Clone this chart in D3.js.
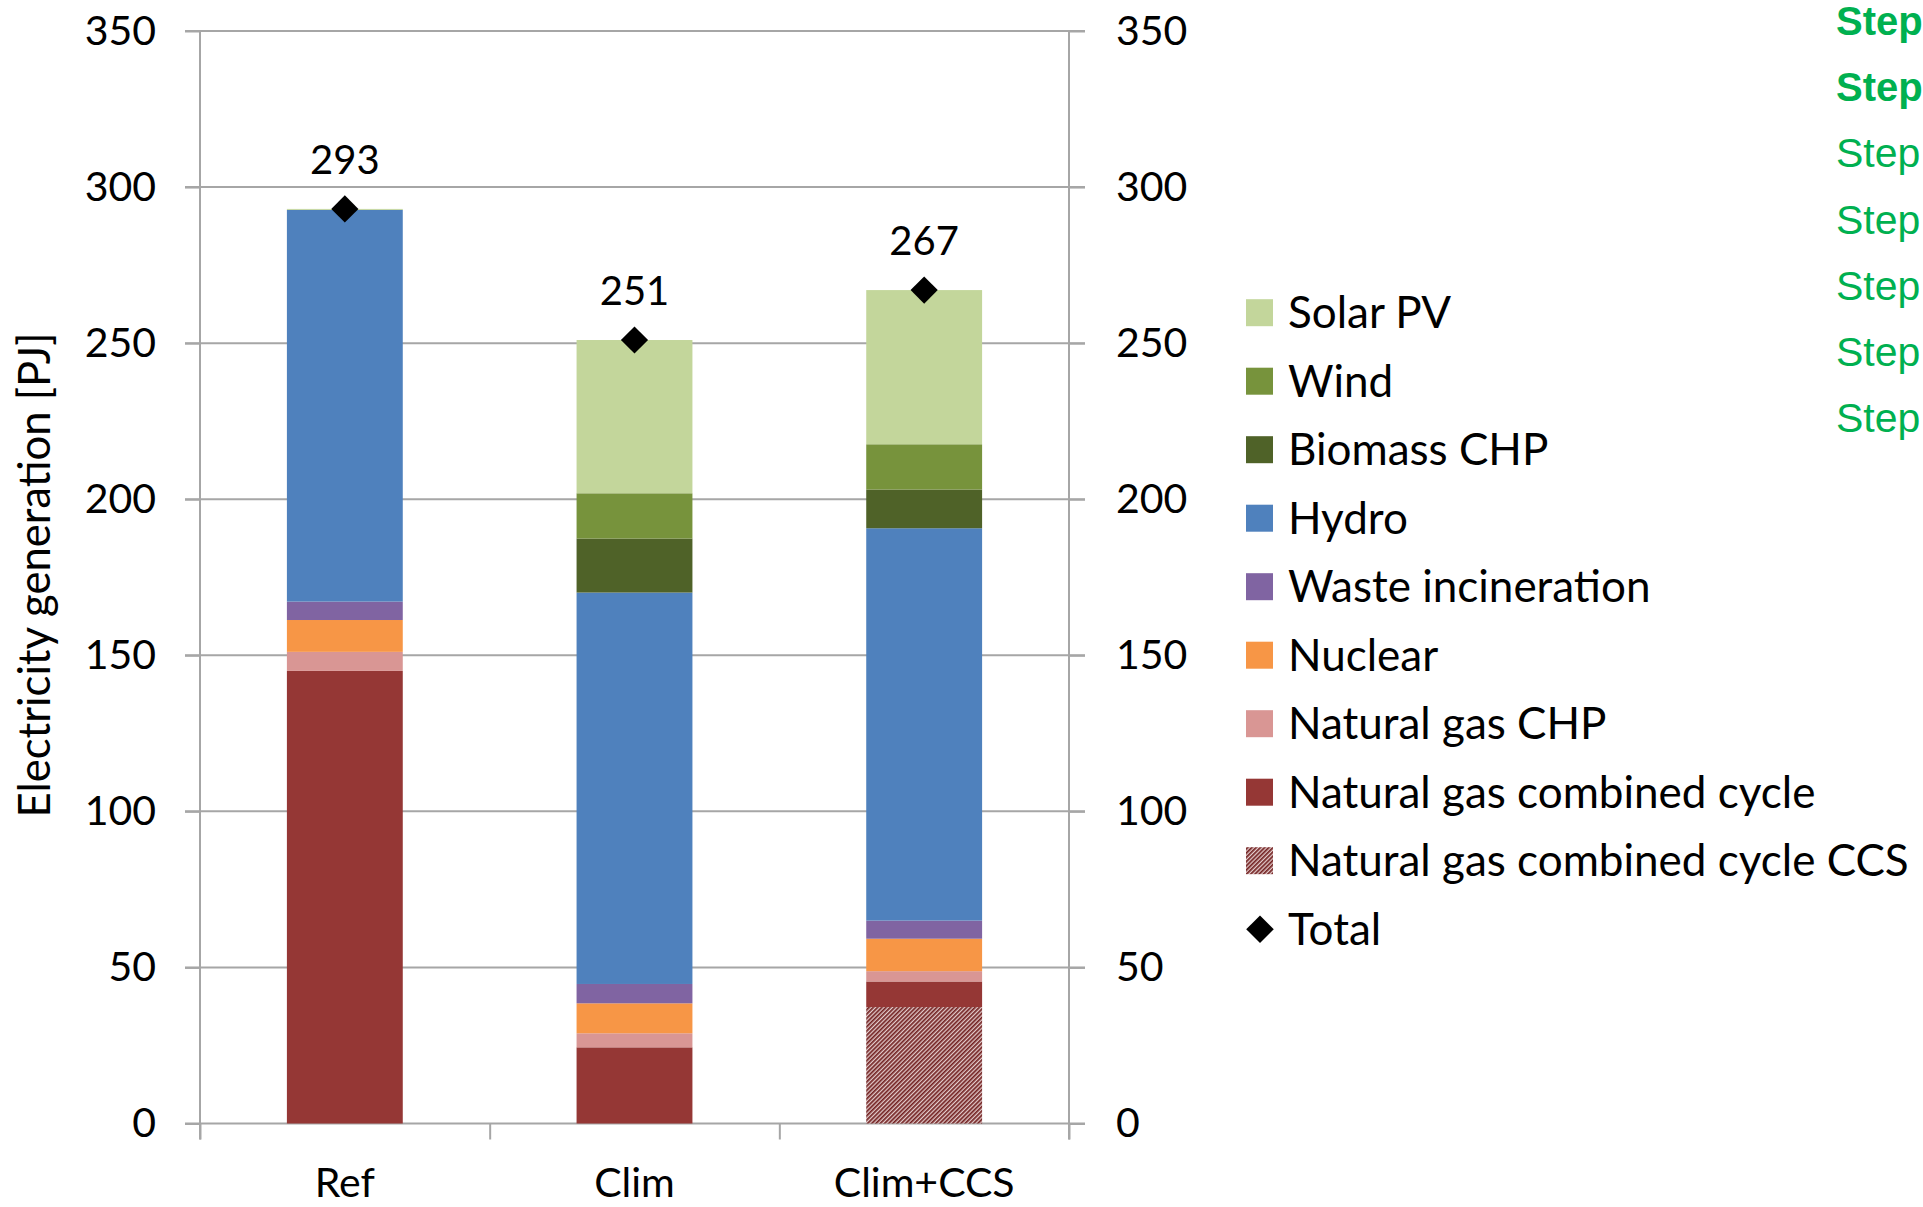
<!DOCTYPE html>
<html>
<head>
<meta charset="utf-8">
<script src="https://cdn.jsdelivr.net/npm/d3@7"></script>
<style>
  html, body { margin: 0; padding: 0; background: #fff; overflow: hidden; }
  svg { display: block; }
  text { font-family: Lato, "Open Sans", sans-serif; fill: #000; }
  text.step { font-family: "Liberation Sans", Arial, sans-serif; fill: #00b050; }
</style>
</head>
<body>
<svg id="chart" width="1923" height="1207"></svg>
<script>
// Electricity generation by technology per scenario [PJ]
const categories = ["Ref", "Clim", "Clim+CCS"];
const ngccCCS  = [0,     0,     37.3];
const ngcc     = [145.0, 24.4,  8.2];
const ngChp    = [6.1,   4.5,   3.3];
const nuclear  = [10.2,  9.6,   10.4];
const waste    = [5.9,   6.2,   5.8];
const hydro    = [125.5, 125.4, 125.7];
const biomass  = [0,     17.3,  12.4];
const wind     = [0,     14.5,  14.5];
const solar    = [0.3,   49.1,  49.4];
const totals   = [293, 251, 267];
const yTicks   = [0, 50, 100, 150, 200, 250, 300, 350];
const steps    = ["Step", "Step", "Step", "Step", "Step", "Step", "Step"];

const series = [
  { key: "ngccCCS", name: "Natural gas combined cycle CCS", values: ngccCCS, color: "url(#hatch)" },
  { key: "ngcc",    name: "Natural gas combined cycle",     values: ngcc,    color: "#953735" },
  { key: "ngChp",   name: "Natural gas CHP",                values: ngChp,   color: "#d99694" },
  { key: "nuclear", name: "Nuclear",                        values: nuclear, color: "#f79646" },
  { key: "waste",   name: "Waste incineration",             values: waste,   color: "#8064a2" },
  { key: "hydro",   name: "Hydro",                          values: hydro,   color: "#4f81bd" },
  { key: "biomass", name: "Biomass CHP",                    values: biomass, color: "#4f6228" },
  { key: "wind",    name: "Wind",                           values: wind,    color: "#77933c" },
  { key: "solar",   name: "Solar PV",                       values: solar,   color: "#c3d69b" }
];

const rows = categories.map((c, i) => {
  const r = { category: c, total: totals[i] };
  series.forEach(s => { r[s.key] = s.values[i]; });
  return r;
});

const svg = d3.select("#chart");
const plotLeft = 200, plotRight = 1069, plotTop = 31, plotBottom = 1123.5;
const gridColor = "#a6a6a6";

// hatch for the CCS series
const defs = svg.append("defs");
const pat = defs.append("pattern")
  .attr("id", "hatch")
  .attr("patternUnits", "userSpaceOnUse")
  .attr("width", 3).attr("height", 3)
  .attr("patternTransform", "rotate(45)");
pat.append("rect").attr("width", 3).attr("height", 3).attr("fill", "#e3cccc");
pat.append("rect").attr("width", 1.7).attr("height", 3).attr("fill", "#732222");

const x = d3.scaleBand().domain(categories).range([plotLeft, plotRight])
  .paddingInner(0.6).paddingOuter(0.3);
const xEdge = d3.scaleLinear().domain([0, categories.length]).range([plotLeft, plotRight]);
const y = d3.scaleLinear().domain([0, 350]).range([plotBottom, plotTop]);

// gridlines
svg.append("g").selectAll("line").data(yTicks).join("line")
  .attr("x1", plotLeft - 15).attr("x2", plotRight + 16)
  .attr("y1", d => y(d)).attr("y2", d => y(d))
  .attr("stroke", gridColor).attr("stroke-width", 2);

// vertical axis lines
svg.append("line").attr("x1", plotLeft).attr("x2", plotLeft).attr("y1", plotTop).attr("y2", plotBottom + 16)
  .attr("stroke", gridColor).attr("stroke-width", 2);
svg.append("line").attr("x1", plotRight).attr("x2", plotRight).attr("y1", plotTop).attr("y2", plotBottom + 16)
  .attr("stroke", gridColor).attr("stroke-width", 2);

// stacked bars
const stack = d3.stack().keys(series.map(s => s.key));
const stacked = stack(rows);
svg.append("g").selectAll("g").data(stacked).join("g")
  .attr("fill", (d, i) => series[i].color)
  .selectAll("rect").data(d => d).join("rect")
  .attr("x", d => x(d.data.category))
  .attr("width", x.bandwidth())
  .attr("y", d => y(d[1]))
  .attr("height", d => Math.max(0, y(d[0]) - y(d[1])));

// left axis
const axL = svg.append("g").attr("transform", `translate(${plotLeft},0)`)
  .call(d3.axisLeft(y).tickValues(yTicks).tickSize(15).tickSizeOuter(0).tickPadding(29));
// right axis
const axR = svg.append("g").attr("transform", `translate(${plotRight},0)`)
  .call(d3.axisRight(y).tickValues(yTicks).tickSize(16).tickSizeOuter(0).tickPadding(31));
// category boundary ticks
const axB = svg.append("g").attr("transform", `translate(0,${plotBottom})`)
  .call(d3.axisBottom(xEdge).tickValues(d3.range(categories.length + 1)).tickSize(16).tickSizeOuter(0).tickFormat(""));
// category labels
const axC = svg.append("g").attr("transform", `translate(0,${plotBottom})`)
  .call(d3.axisBottom(x).tickSize(0).tickPadding(44));

[axL, axR, axB, axC].forEach(g => {
  g.select(".domain").remove();
  g.selectAll(".tick line").attr("stroke", gridColor).attr("stroke-width", 2);
  g.selectAll("text").attr("fill", "#000");
});
axL.selectAll("text").attr("font-size", 41);
axR.selectAll("text").attr("font-size", 41);
axC.selectAll("text").attr("font-size", 41);

// totals: diamonds and labels
const diamond = d3.symbol(d3.symbolSquare, 370);
svg.append("g").selectAll("path").data(rows).join("path")
  .attr("d", diamond)
  .attr("transform", d => `translate(${x(d.category) + x.bandwidth() / 2},${y(d.total)}) rotate(45)`)
  .attr("fill", "#000");
svg.append("g").selectAll("text").data(rows).join("text")
  .attr("x", d => x(d.category) + x.bandwidth() / 2)
  .attr("y", d => y(d.total) - 35)
  .attr("text-anchor", "middle")
  .attr("font-size", 40)
  .text(d => d.total);

// y axis title
svg.append("text")
  .attr("transform", "translate(50,575) rotate(-90)")
  .attr("text-anchor", "middle")
  .attr("font-size", 44)
  .attr("textLength", 485).attr("lengthAdjust", "spacingAndGlyphs")
  .text("Electricity generation [PJ]");

// legend (top entry is the top of the stack)
const legendItems = series.slice().reverse().map(s => ({ name: s.name, color: s.color, kind: "box" }));
legendItems.push({ name: "Total", kind: "diamond" });
const rowGap = 68.5;
const lg = svg.append("g").attr("transform", "translate(1246,312.7)");
const li = lg.selectAll("g").data(legendItems).join("g")
  .attr("transform", (d, i) => `translate(0,${i * rowGap})`);
li.filter(d => d.kind === "box").append("rect")
  .attr("y", -13.5).attr("width", 27).attr("height", 27).attr("fill", d => d.color);
li.filter(d => d.kind === "diamond").append("path")
  .attr("d", d3.symbol(d3.symbolSquare, 380))
  .attr("transform", "translate(14,0) rotate(45)")
  .attr("fill", "#000");
li.append("text").attr("x", 42).attr("y", 15.5).attr("font-size", 44).text(d => d.name);

// step labels along the right edge
svg.append("g").selectAll("text").data(steps).join("text")
  .attr("class", "step")
  .attr("x", 1836)
  .attr("y", (d, i) => 35 + i * 66.2)
  .attr("font-size", (d, i) => i < 2 ? 40 : 41)
  .attr("font-weight", (d, i) => i < 2 ? "bold" : "normal")
  .text(d => d);
</script>
</body>
</html>
